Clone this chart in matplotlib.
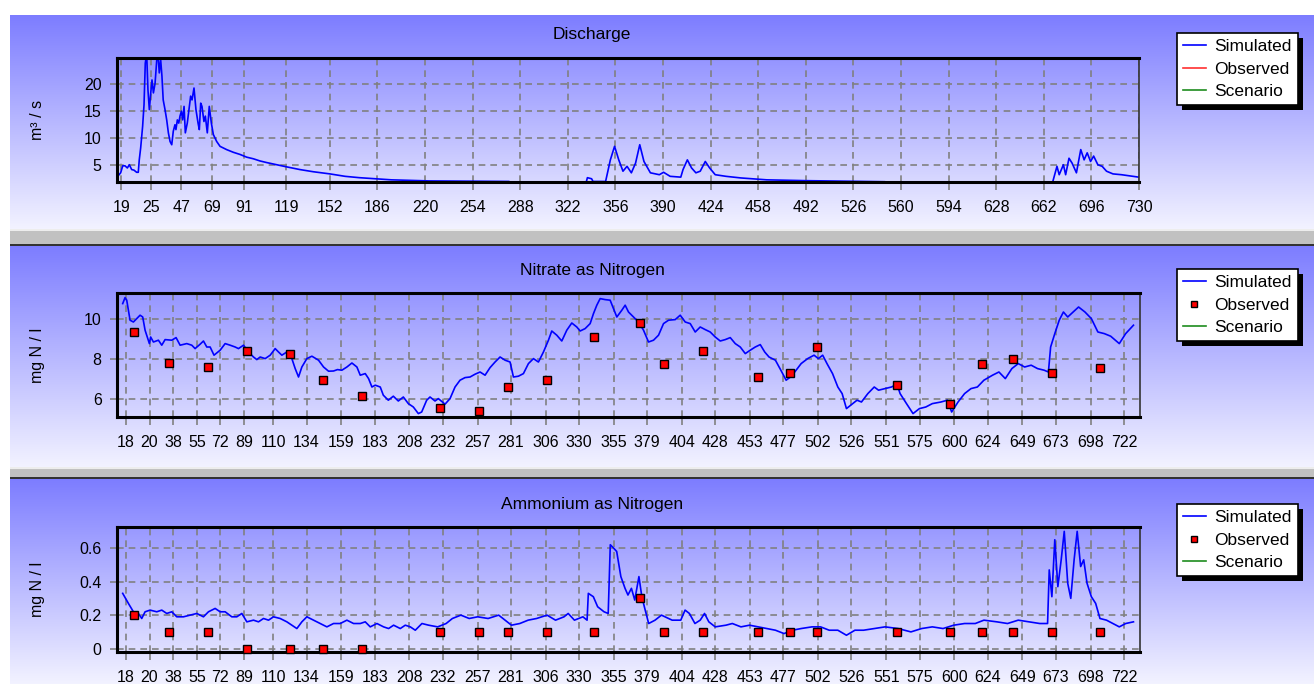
import numpy as np
import matplotlib
matplotlib.use("Agg")
import matplotlib.pyplot as plt
from matplotlib.lines import Line2D
from matplotlib.patches import Rectangle

W, H = 1314, 684

# ---------------------------------------------------------------
# DATA
# ---------------------------------------------------------------
# Discharge, simulated (day, m3/s); values below the axis floor are hidden
q_day = [0, 2.6, 4.1, 5.7, 7.4, 8.8, 10.5, 12.1, 14, 15.2, 15.9, 16.9, 18.3, 19.3,
         20.2, 21.2, 22.1, 23.1, 24.1, 25, 26, 27.2, 28.4, 29.3, 30.2, 31.2, 32.1,
         33, 34.3, 35.5, 36.7, 37.9, 39.1, 40.2, 41.4, 42.1, 43.1, 44.1, 45, 46,
         46.9, 47.9, 48.8, 50.2, 51.7, 52.6, 53.6, 55, 56.4, 57.9, 58.8, 59.8, 60.7,
         62.1, 63.1, 64.5, 65.9, 67.4, 68.8, 71.2, 73.6, 78.3, 83.1, 87.9, 92.6,
         97.4, 102.1, 106.9, 114, 121.2, 130.7, 140.2, 152.1, 162.9, 173.1, 196,
         223, 250, 280, 282, 335, 336, 339, 340, 349, 352.4, 355.4, 358.4, 361.4,
         364.3, 367.4, 370.4, 373.4, 376.4, 381, 387.4, 390.4, 395.1, 402.7, 404.3,
         407.4, 410.4, 413.5, 416.6, 420.2, 423.3, 427.3, 435, 445.7, 464.1, 491.8,
         520, 548.6, 550, 668, 668.4, 671.4, 673, 676, 677.6, 680, 682.2, 685.3,
         688.4, 690.8, 693, 695.4, 697.6, 700.6, 703.7, 706.8, 711.4, 717.5, 729.8]
q_sim = [2.7, 3.5, 4.8, 4.8, 4.4, 5.0, 4.1, 4.0, 3.6, 3.6, 5.9, 8.1, 12.1, 16.1,
         23.8, 25.5, 18.9, 15.2, 18.3, 20.7, 18.3, 20.1, 24.4, 25.5, 22.0, 24.4, 21.4,
         17.0, 15.2, 13.3, 10.9, 9.3, 8.7, 11.2, 12.4, 11.5, 13.3, 12.7, 14.0, 14.9,
         13.3, 15.8, 10.9, 12.7, 15.8, 17.7, 17.0, 19.2, 15.2, 12.7, 11.5, 16.4, 15.8,
         13.0, 14.0, 10.9, 15.8, 12.7, 10.6, 9.3, 8.4, 7.8, 7.3, 6.9, 6.4,
         6.1, 5.7, 5.4, 5.0, 4.6, 4.1, 3.7, 3.3, 2.85, 2.6, 2.2,
         2.0, 1.95, 1.9, 1.6, 1.6, 2.6, 2.4, 1.9, 1.9, 5.9, 8.4, 5.9, 3.8,
         4.7, 3.5, 5.3, 8.7, 5.6, 3.5, 3.15, 3.6, 2.85, 2.7, 4.1,
         5.9, 4.4, 3.5, 3.8, 5.6, 4.4, 3.15, 2.85, 2.55, 2.2, 2.05,
         1.95, 1.85, 1.6, 1.6, 1.85, 4.7, 3.15, 5.0, 3.15, 6.2, 5.3, 3.5,
         7.8, 5.9, 7.2, 5.6, 6.6, 5.0, 4.7, 3.8, 3.3, 3.15, 2.7]

# Nitrate as nitrogen, simulated (day, mg N/l)
n_day = [1.7, 3.4, 4.6, 7.0, 9.4, 11.8, 14.2, 16.1, 17.8, 20.9, 21.8, 23.8, 27.4,
         29.8, 32.2, 37, 40.1, 43, 47.8, 51.4, 53.8, 57.4, 59.8, 62.2, 64.6, 67.4,
         71.8, 75.4, 79, 82.6, 85, 88.6, 92.2, 95.8, 98.2, 100.6, 104.2, 107.8,
         111.4, 113.8, 116.2, 119.8, 123.4, 125.8, 128.2, 130.6, 134.2, 137.8,
         142.6, 146.2, 149.8, 153.4, 156.2, 159.4, 163, 166.6, 170.2, 172.6, 176.2,
         178.6, 181, 183.4, 187, 189.2, 192.8, 196.4, 200, 203.6, 207.2, 210.8,
         214.4, 216.8, 220.4, 222.8, 226.4, 228.8, 233.6, 237.2, 240.8, 244.4, 248,
         251.6, 255.2, 258.8, 262.4, 266, 269.6, 273.2, 276.8, 280.4, 282.8, 286.4,
         290, 293.6, 297.2, 300.8, 304.4, 308, 310.4, 314, 317.6, 321.2, 324.8,
         328.4, 330.8, 334.4, 338, 340.4, 342.8, 345.2, 348.8, 352.4, 354.8, 357.2,
         360.8, 363.2, 365.6, 369.2, 372.8, 376.4, 380, 383.6, 387.2, 390.8, 394.4,
         399.2, 402.8, 406.4, 410, 413.6, 417.2, 420.8, 424.4, 428, 431.6, 435.2,
         438.8, 442.4, 446, 449.6, 453.2, 456.8, 460.4, 463.6, 466.7, 471.3, 475.9,
         479, 482.1, 485.2, 489.8, 494.5, 499.1, 502.2, 505.3, 508.4, 512.4, 516.2,
         519.3, 522.4, 525.5, 530, 533.2, 537.8, 542.4, 545.5, 550.2, 554.8, 558.8,
         561, 565.6, 570.3, 574.9, 579.5, 584.2, 590.4, 595, 598.1, 602.7, 607.4,
         612, 616.6, 621.3, 627.5, 632.1, 636.7, 641.4, 646, 650.6, 655.3, 659.9,
         664.6, 667.7, 669.3, 672.3, 675.5, 678.5, 681.6, 684.7, 689.4, 694, 698.6,
         703.3, 707.9, 712.5, 718.7, 723.3, 728.9]
n_sim = [10.75, 11.05, 10.92, 9.92, 9.83, 10.0, 10.17, 10.08, 9.42, 8.75, 9.08, 8.83,
         8.92, 8.67, 8.95, 8.92, 9.05, 8.67, 8.75, 8.67, 8.5, 8.72, 8.88, 8.58, 8.58,
         8.17, 8.42, 8.75, 8.67, 8.58, 8.5, 8.67, 8.33, 8.08, 7.95, 8.08, 8.0, 8.17,
         8.5, 8.33, 8.17, 8.33, 8.0, 7.5, 7.08, 7.58, 8.0, 8.12, 7.92, 7.58, 7.37,
         7.38, 7.45, 7.42, 7.58, 7.78, 7.58, 7.17, 7.25, 7.0, 6.58, 6.67, 6.58, 6.17,
         5.92, 6.12, 5.88, 6.08, 5.75, 5.58, 5.25, 5.33, 5.92, 6.08, 5.88, 6.0, 5.72,
         6.0, 6.58, 6.92, 7.05, 7.08, 7.22, 7.33, 7.17, 7.55, 7.83, 8.08, 7.92, 7.83,
         7.08, 7.12, 7.25, 7.75, 8.0, 7.83, 8.33, 8.92, 9.38, 9.17, 8.88, 9.42, 9.78,
         9.58, 9.38, 9.5, 9.75, 10.25, 10.67, 11.0, 10.95, 10.92, 10.5, 10.08, 10.42,
         10.67, 10.33, 10.08, 9.83, 9.42, 8.83, 8.92, 9.17, 9.75, 9.92, 9.95, 10.17,
         9.83, 9.75, 9.33, 9.58, 9.45, 9.33, 9.08, 8.88, 8.95, 9.05, 8.75, 8.58, 8.25,
         8.42, 8.58, 8.7, 8.33, 8.08, 7.92, 7.33, 6.92, 7.08, 7.33, 7.75, 8.0, 8.17,
         8.0, 8.17, 7.75, 7.25, 6.58, 6.25, 5.5, 5.67, 5.92, 5.83, 6.25, 6.58, 6.42,
         6.5, 6.58, 6.72, 6.25, 5.75, 5.25, 5.5, 5.58, 5.75, 5.83, 5.92, 5.33, 5.83,
         6.25, 6.5, 6.58, 6.92, 7.17, 7.33, 7.0, 7.5, 7.75, 7.58, 7.67, 7.5, 7.42,
         7.33, 8.58, 9.25, 9.92, 10.33, 10.08, 10.28, 10.58, 10.33, 10.0, 9.33, 9.25,
         9.12, 8.75, 9.25, 9.67]

# Ammonium as nitrogen, simulated (day, mg N/l)
a_day = [1.7, 5.8, 9.4, 13, 15.4, 17.8, 21.4, 26.2, 29.8, 33.4, 37, 40.6, 45.4, 50.2,
         55, 59.8, 63.4, 68.2, 71.8, 75.4, 80.2, 83.8, 87.4, 91, 95.8, 99.4, 103,
         106.6, 110.2, 115, 119.8, 123.4, 127, 130.6, 134.2, 139, 143.8, 148.6,
         153.4, 158.2, 163, 167.8, 172.6, 176.2, 179.8, 184.6, 189.4, 193, 196.6,
         201.4, 205, 208.6, 212.2, 217, 221.8, 228.3, 234.4, 238.9, 245, 251, 257.1,
         264.6, 272.2, 276.8, 281.4, 287.4, 293.4, 299.5, 307, 313.1, 319.2, 322.2,
         326.7, 332.8, 335.8, 336.7, 340.3, 343.4, 348, 351, 352.5, 354.9, 357.1,
         360.1, 363.1, 365.2, 367.7, 370.1, 373.1, 375.2, 377, 380.1, 384.7, 389.3,
         397, 403.2, 406.3, 409.4, 413.4, 417.2, 420.3, 423.4, 428, 435.7, 440.3,
         446.5, 452.7, 458.9, 465.1, 471.3, 477.5, 483.6, 489.8, 497.6, 503.8, 510,
         516.2, 522.4, 528.5, 534.7, 542.4, 550.2, 559.5, 568.8, 576.5, 584.2, 591.9,
         599.6, 607.4, 615.1, 621.3, 630.6, 638.3, 646, 653.8, 661.5, 667.1, 668.3,
         670.2, 672.3, 674.5, 676.9, 679.1, 681.6, 683.8, 686.2, 688.4, 690.9, 693.1,
         695.5, 698.6, 701.7, 704.8, 709.5, 714.1, 718.7, 723.3, 728.9]
a_sim = [0.33, 0.27, 0.22, 0.21, 0.18, 0.22, 0.23, 0.22, 0.23, 0.21, 0.22, 0.19, 0.19,
         0.2, 0.21, 0.19, 0.22, 0.24, 0.22, 0.22, 0.19, 0.19, 0.21, 0.16, 0.17, 0.16,
         0.18, 0.17, 0.19, 0.18, 0.16, 0.14, 0.12, 0.16, 0.19, 0.17, 0.15, 0.13, 0.15,
         0.15, 0.17, 0.15, 0.15, 0.16, 0.13, 0.15, 0.13, 0.12, 0.14, 0.12, 0.14, 0.13,
         0.11, 0.15, 0.14, 0.13, 0.15, 0.18, 0.2, 0.18, 0.19, 0.18, 0.2, 0.17, 0.14,
         0.15, 0.17, 0.18, 0.2, 0.17, 0.19, 0.21, 0.17, 0.19, 0.17, 0.33, 0.31, 0.25,
         0.22, 0.21, 0.62, 0.6, 0.58, 0.43, 0.36, 0.32, 0.36, 0.29, 0.43, 0.31, 0.25,
         0.15, 0.17, 0.2, 0.17, 0.17, 0.23, 0.21, 0.15, 0.17, 0.21, 0.16, 0.13, 0.14,
         0.15, 0.13, 0.14, 0.13, 0.12, 0.11, 0.09, 0.11, 0.12, 0.13, 0.13, 0.11, 0.11,
         0.08, 0.11, 0.11, 0.12, 0.13, 0.12, 0.1, 0.12, 0.13, 0.12, 0.14, 0.15, 0.15,
         0.17, 0.16, 0.15, 0.17, 0.16, 0.15, 0.15, 0.47, 0.31, 0.65, 0.37, 0.53, 0.7,
         0.39, 0.3, 0.53, 0.7, 0.49, 0.53, 0.39, 0.31, 0.27, 0.18, 0.17, 0.15, 0.13,
         0.15, 0.16]

# Observed samples (same dates for both water-quality charts)
obs_day = [10, 35, 63, 91, 122, 146, 174, 230, 258, 279, 307, 341, 374, 391, 419,
           459, 482, 501, 559, 597, 620, 642, 670, 705]
n_obs = [9.33, 7.77, 7.6, 8.4, 8.21, 6.91, 6.14, 5.53, 5.36, 6.57, 6.91, 9.07, 9.76,
         7.71, 8.4, 7.1, 7.27, 8.57, 6.67, 5.73, 7.71, 7.96, 7.27, 7.53]
a_obs = [0.2, 0.1, 0.1, 0.0, 0.0, 0.0, 0.0, 0.1, 0.1, 0.1, 0.1, 0.1, 0.3, 0.1, 0.1,
         0.1, 0.1, 0.1, 0.1, 0.1, 0.1, 0.1, 0.1, 0.1]

# Axis tick labels
q_ticklabels = ["19", "25", "47", "69", "91", "119", "152", "186", "220", "254", "288",
                "322", "356", "390", "424", "458", "492", "526", "560", "594", "628",
                "662", "696", "730"]
q_tickpos = [3, 24, 46, 68, 91, 121] + [int(s) for s in q_ticklabels[6:]]
wq_ticklabels = ["18", "20", "38", "55", "72", "89", "110", "134", "159", "183", "208",
                 "232", "257", "281", "306", "330", "355", "379", "404", "428", "453",
                 "477", "502", "526", "551", "575", "600", "624", "649", "673", "698",
                 "722"]
wq_tickpos = [4, 21] + [int(s) for s in wq_ticklabels[2:]]

BLUE = "#0000FF"
RED = "#FF0000"
GREEN = "#1E8C1E"
GRID = "#808080"

plt.rcParams["font.family"] = ["Liberation Sans", "DejaVu Sans"]


def box(x0, y0, x1, y1):
    # pixel box (top-left origin) -> figure fraction rect
    return [x0 / W, 1 - y1 / H, (x1 - x0) / W, (y1 - y0) / H]


fig = plt.figure(figsize=(W / 100, H / 100), dpi=100)

# -------- background: blue gradient panels with grey separators --------
bg = np.ones((H, W, 3))
top_c = np.array([0.49, 0.49, 1.0])
bot_c = np.array([0.95, 0.95, 1.0])
for y0, y1 in [(15, 229), (246, 467), (479, H)]:
    t = np.linspace(0, 1, y1 - y0)[:, None, None]
    bg[y0:y1, 10:] = top_c + (bot_c - top_c) * t
for y0, y1 in [(229, 246), (467, 479)]:
    bg[y0:y1, 10:] = 0.76
    bg[y0:y0 + 2, 10:] = 0.93
    bg[y1 - 2:y1, 10:] = 0.2
ax_bg = fig.add_axes([0, 0, 1, 1], zorder=0)
ax_bg.imshow(bg, aspect="auto", interpolation="nearest")
ax_bg.axis("off")

panels = [
    dict(rect=box(117, 58, 1139, 182), xlim=(0, 730), ylim=(1.8, 24.76),
         yticks=[5, 10, 15, 20], ylabels=["5", "10", "15", "20"],
         xpos=q_tickpos, xlab=q_ticklabels, title="Discharge", ty=34,
         ylabel="m\u00b3 / s", leg_y=33),
    dict(rect=box(117, 293, 1140, 417), xlim=(-2.4, 733.6), ylim=(5.08, 11.28),
         yticks=[6, 8, 10], ylabels=["6", "8", "10"],
         xpos=wq_tickpos, xlab=wq_ticklabels, title="Nitrate as Nitrogen", ty=270,
         ylabel="mg N / l", leg_y=269),
    dict(rect=box(117, 527, 1140, 652), xlim=(-2.4, 733.6), ylim=(-0.02, 0.726),
         yticks=[0, 0.2, 0.4, 0.6], ylabels=["0", "0.2", "0.4", "0.6"],
         xpos=wq_tickpos, xlab=wq_ticklabels, title="Ammonium as Nitrogen", ty=505,
         ylabel="mg N / l", leg_y=504),
]
series = [(q_day, q_sim, None), (n_day, n_sim, n_obs), (a_day, a_sim, a_obs)]

legends = []
for p, (sd, sv, ov) in zip(panels, series):
    ax = fig.add_axes(p["rect"], zorder=1)
    ax.patch.set_alpha(0)
    ax.plot(sd, sv, color=BLUE, lw=1.2)
    if ov is not None:
        ax.plot(obs_day, ov, ls="none", marker="s", ms=5.5, mfc=RED, mec="black",
                mew=1, zorder=4, clip_on=False)
    ax.set_xlim(*p["xlim"])
    ax.set_ylim(*p["ylim"])
    ax.set_xticks(p["xpos"], p["xlab"])
    ax.set_yticks(p["yticks"], p["ylabels"])
    ax.grid(True, color=GRID, linestyle=(0, (4, 3)), linewidth=1.2)
    for side in ["top", "bottom", "left"]:
        ax.spines[side].set_linewidth(2.2)
        ax.spines[side].set_color("black")
    ax.spines["right"].set_linewidth(1.2)
    ax.spines["right"].set_color("#333333")
    ax.tick_params(axis="x", length=6, width=1.2, color=GRID, pad=7, labelsize=11.5)
    ax.tick_params(axis="y", length=5, width=1.2, color=GRID, pad=6, labelsize=11.5)
    ax.set_ylabel(p["ylabel"], fontsize=11.5)
    ax.yaxis.set_label_coords(-0.07, 0.5)
    fig.text(592 / W, 1 - p["ty"] / H, p["title"], ha="center", va="center",
             fontsize=12.5)

    obs_handle = (Line2D([], [], color="#FF3030", lw=1.2) if ov is None else
                  Line2D([], [], ls="none", marker="s", ms=5, mfc=RED, mec="black"))
    handles = [Line2D([], [], color=BLUE, lw=1.2), obs_handle,
               Line2D([], [], color=GREEN, lw=1.2)]
    leg = ax.legend(handles, ["Simulated", "Observed", "Scenario"],
                    loc="upper left", bbox_to_anchor=(1177 / W, 1 - p["leg_y"] / H),
                    bbox_transform=fig.transFigure, fontsize=12.5, frameon=True,
                    fancybox=False, framealpha=1, edgecolor="black",
                    borderpad=0.35, labelspacing=0.42, handlelength=1.3,
                    handletextpad=0.5, borderaxespad=0)
    leg.get_frame().set_linewidth(1.2)
    legends.append(leg)

# solid black drop shadows behind the legend boxes
fig.canvas.draw()
for leg in legends:
    bb = leg.get_window_extent()
    fig.patches.append(Rectangle((bb.x0 + 5, bb.y0 - 5), bb.width, bb.height,
                                 transform=None, facecolor="black",
                                 edgecolor="none", zorder=0.5))

fig.savefig("out.png", dpi=100)
